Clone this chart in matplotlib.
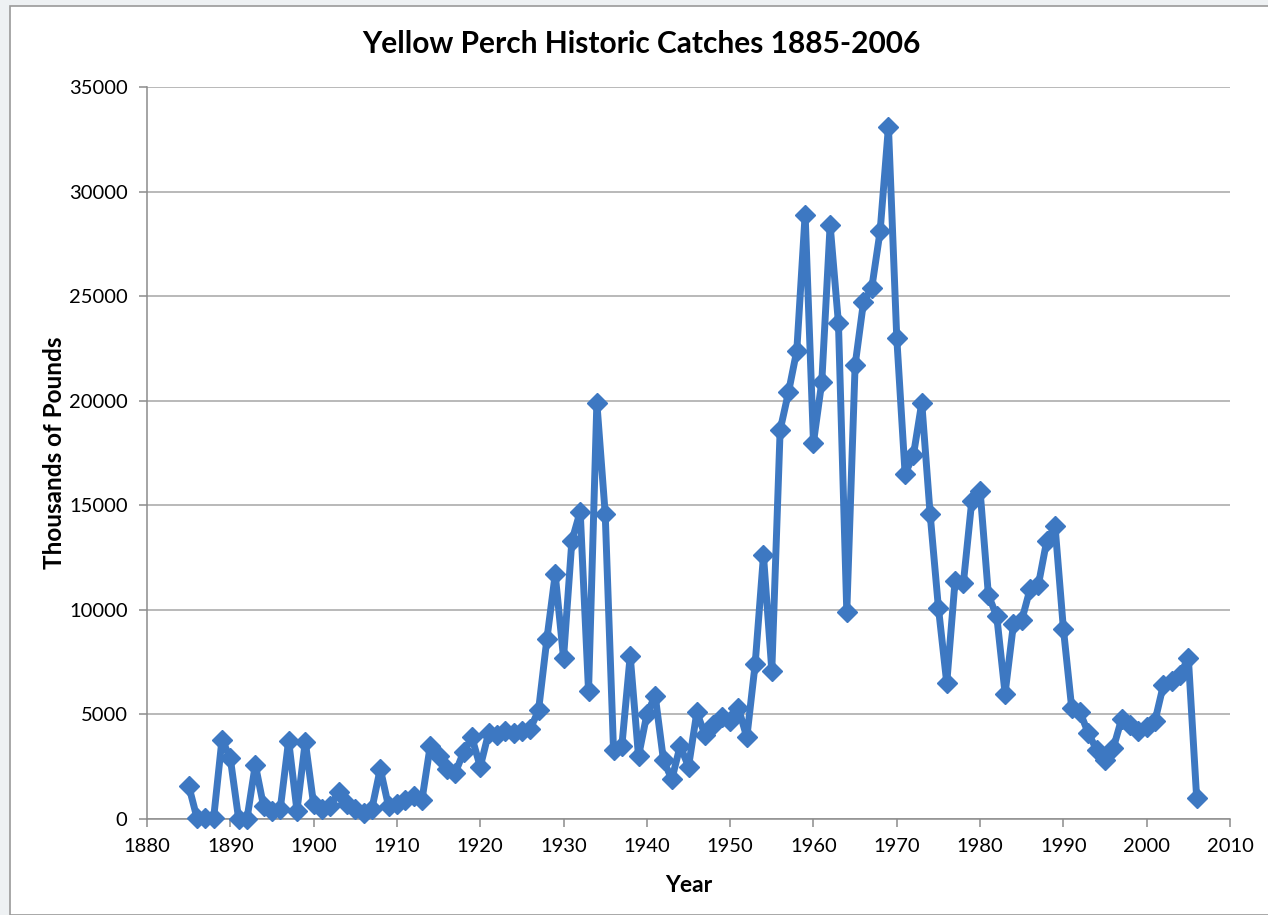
import matplotlib.pyplot as plt
import matplotlib.patches as mpatches

# catches in thousands of pounds
years = list(range(1885, 2007))
catch = [
    1600, 50, 50, 50, 3800, 2900, 0, 0, 2600, 600,
    400, 500, 3750, 400, 3700, 700, 500, 600, 1300, 700,
    500, 300, 500, 2400, 600, 700, 900, 1100, 900, 3500,
    3000, 2400, 2200, 3200, 3900, 2500, 4100, 4000, 4200, 4100,
    4200, 4300, 5200, 8600, 11700, 7700, 13300, 14700, 6100, 19900,
    14600, 3300, 3500, 7800, 3000, 5000, 5900, 2800, 1900, 3500,
    2500, 5100, 4000, 4500, 4900, 4700, 5300, 3900, 7400, 12600,
    7100, 18600, 20400, 22400, 28900, 18000, 20900, 28400, 23700, 9900,
    21700, 24700, 25400, 28100, 33100, 23000, 16500, 17400, 19900, 14600,
    10100, 6500, 11400, 11300, 15200, 15700, 10700, 9700, 6000, 9300,
    9500, 11000, 11200, 13300, 14000, 9100, 5300, 5100, 4100, 3300,
    2800, 3400, 4800, 4500, 4200, 4400, 4700, 6400, 6600, 6900,
    7700, 1000,
]
x_ticks = list(range(1880, 2011, 10))
y_ticks = list(range(0, 35001, 5000))

plt.rcParams['font.family'] = ['Lato', 'DejaVu Sans']

W, H = 1268, 915
fig = plt.figure(figsize=(W / 100, H / 100), dpi=100)
fig.patch.set_facecolor('#eef1f3')
# white chart area with thin grey frame
fig.patches.append(mpatches.Rectangle((10 / W, 0), 1.0, 1 - 6 / H,
                                      transform=fig.transFigure, facecolor='white',
                                      edgecolor='#9a9a9a', linewidth=1.2, zorder=-5))

ax = fig.add_axes([147 / W, 1 - 819 / H, (1230 - 147) / W, (819 - 87) / H])
ax.set_facecolor('white')

ax.plot(years, catch, color='#3d78c2', linewidth=5, marker='D', markersize=10.5,
        markerfacecolor='#3d78c2', markeredgecolor='#3d78c2', clip_on=False, zorder=3)

ax.set_xlim(1880, 2010)
ax.set_ylim(0, 35000)
ax.set_xticks(x_ticks)
ax.set_yticks(y_ticks)
ax.grid(axis='y', color='#a6a6a6', linewidth=1.1)
ax.set_axisbelow(True)
for s in ['top', 'right']:
    ax.spines[s].set_visible(False)
for s in ['left', 'bottom']:
    ax.spines[s].set_color('#8c8c8c')
    ax.spines[s].set_linewidth(1.1)
ax.tick_params(axis='both', colors='#8c8c8c', labelcolor='black', labelsize=14.5,
               length=6, width=1.1)
ax.tick_params(axis='x', pad=8)
ax.tick_params(axis='y', pad=8)

fig.text(641 / W, 1 - 44 / H, 'Yellow Perch Historic Catches 1885-2006',
         fontsize=21.5, fontweight='bold', ha='center', va='center')
ax.set_xlabel('Year', fontsize=16.5, fontweight='bold', labelpad=14)
ax.set_ylabel('Thousands of Pounds', fontsize=17.5, fontweight='bold', labelpad=2)

fig.savefig('out.png', dpi=100)
